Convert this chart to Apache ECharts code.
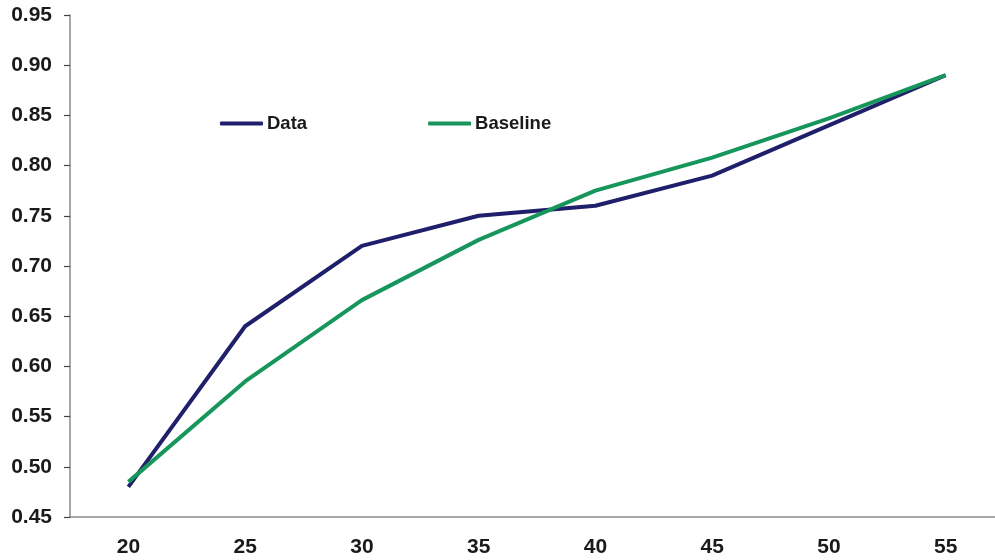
<!DOCTYPE html>
<html>
<head>
<meta charset="utf-8">
<script src="https://cdn.jsdelivr.net/npm/echarts@6/dist/echarts.min.js"></script>
<style>html,body{margin:0;padding:0;background:#fff;overflow:hidden;width:995px;height:560px}#c{width:1004px;height:560px}</style>
</head>
<body>
<div id="c"></div>
<script>
const categories = ['20', '25', '30', '35', '40', '45', '50', '55'];
const dataValues = [0.48, 0.64, 0.72, 0.75, 0.76, 0.79, 0.84, 0.89];
const baselineValues = [0.485, 0.585, 0.666, 0.726, 0.775, 0.808, 0.847, 0.89];

const chart = echarts.init(document.getElementById('c'));
const axisColor = '#8a8a8a';
const labelFont = { fontFamily: 'Liberation Sans, Arial, sans-serif', fontWeight: 'bold', fontSize: 21, color: '#1a1a1a' };
chart.setOption({
  animation: false,
  backgroundColor: '#fff',
  grid: { left: 70, top: 15, bottom: 43, right: 0, containLabel: false },
  legend: {
    left: 215, top: 109,
    itemWidth: 43, itemHeight: 4, itemGap: 121,
    icon: 'roundRect',
    textStyle: { fontFamily: 'Liberation Sans, Arial, sans-serif', fontWeight: 'bold', fontSize: 18.5, color: '#1a1a1a', padding: [0,0,0,-1] },
    data: ['Data', 'Baseline']
  },
  xAxis: {
    type: 'category',
    data: categories,
    boundaryGap: true,
    axisLine: { lineStyle: { color: axisColor, width: 1.5 } },
    axisTick: { length: 6, lineStyle: { color: '#444', width: 1.2 } },
    axisLabel: Object.assign({ margin: 20 }, labelFont),
    splitLine: { show: false }
  },
  yAxis: {
    type: 'value',
    min: 0.45, max: 0.95, interval: 0.05,
    axisLine: { show: true, lineStyle: { color: axisColor, width: 1.5 } },
    axisTick: { show: true, length: 6, lineStyle: { color: '#444', width: 1.2 } },
    axisLabel: Object.assign({ margin: 18, formatter: v => v.toFixed(2) }, labelFont),
    splitLine: { show: false }
  },
  series: [
    { name: 'Data', type: 'line', data: dataValues, symbol: 'none', color: '#1f1f6b',
      lineStyle: { width: 4, color: '#1f1f6b' } },
    { name: 'Baseline', type: 'line', data: baselineValues, symbol: 'none', color: '#16965a',
      lineStyle: { width: 4, color: '#16965a' } }
  ]
});
</script>
</body>
</html>
